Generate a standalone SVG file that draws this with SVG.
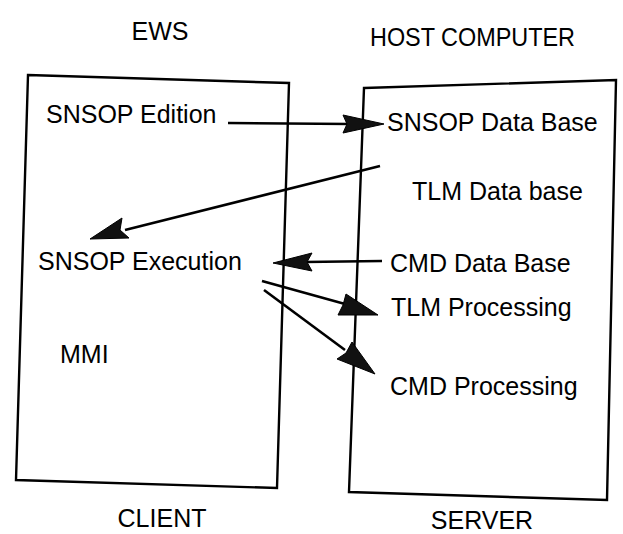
<svg xmlns="http://www.w3.org/2000/svg" width="623" height="534" viewBox="0 0 623 534">
<style>
text{font-family:"Liberation Sans",Arial,sans-serif;font-size:25px;fill:#000}
.box{fill:none;stroke:#000;stroke-width:2.4}
.c{fill:none;stroke:#000;stroke-width:2.6}
.h{fill:#111;stroke:#000;stroke-width:1}
</style>
<rect width="623" height="534" fill="#fff"/>
<g id="ews"><text x="160" y="40" text-anchor="middle">EWS</text></g>
<g id="host"><text x="370" y="46" textLength="205" lengthAdjust="spacingAndGlyphs">HOST COMPUTER</text></g>
<g id="client-box"><polygon class="box" points="28,75 289,83 277,488 16,480"/></g>
<g id="server-box"><polygon class="box" points="364,88 616,80 607,500 349,492"/></g>
<g id="client"><text x="162" y="527" text-anchor="middle">CLIENT</text></g>
<g id="server"><text x="482" y="529" text-anchor="middle">SERVER</text></g>
<g id="snsop-edition"><text x="46" y="123">SNSOP Edition</text></g>
<g id="snsop-db"><text x="387" y="131">SNSOP Data Base</text></g>
<g id="tlm-db"><text x="412" y="200">TLM Data base</text></g>
<g id="snsop-exec"><text x="38" y="270">SNSOP Execution</text></g>
<g id="cmd-db"><text x="390" y="272">CMD Data Base</text></g>
<g id="tlm-proc"><text x="391" y="316">TLM Processing</text></g>
<g id="mmi"><text x="60" y="363">MMI</text></g>
<g id="cmd-proc"><text x="390" y="395">CMD Processing</text></g>
<g id="connectors">
<line class="c" x1="228" y1="123" x2="350" y2="124"/>
<polygon class="h" points="384,124 343,115 347,124 343,133"/>
<line class="c" x1="380" y1="166" x2="125" y2="230"/>
<polygon class="h" points="90,239 122,218 120,230 129,238"/>
<line class="c" x1="382" y1="261" x2="305" y2="262"/>
<polygon class="h" points="273,263 312,253 307,262 312,271"/>
<line class="c" x1="262" y1="281" x2="345" y2="304"/>
<polygon class="h" points="378,315 346,294 343,305 338,315"/>
<line class="c" x1="264" y1="290" x2="345" y2="350"/>
<polygon class="h" points="375,374 352,342 346,353 337,359"/>
</g>
</svg>
